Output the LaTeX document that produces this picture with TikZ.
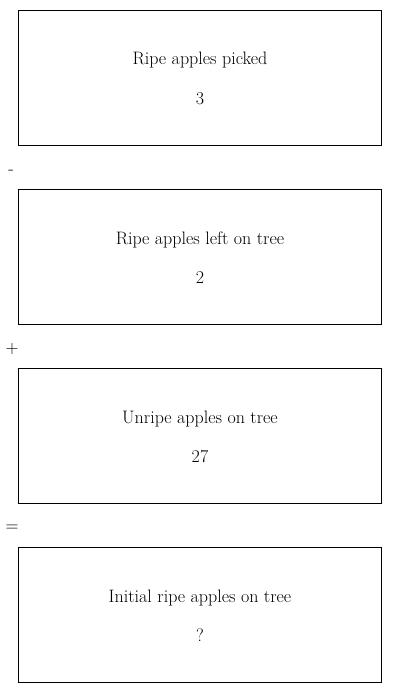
\documentclass[tikz,border=0pt]{standalone}
\begin{document}
\begin{tikzpicture}[x=1pt,y=-1pt,
  box/.style={draw,line width=0.8pt,minimum width=363pt,minimum height=135pt,inner sep=0pt},
  lbl/.style={font=\fontsize{18}{21}\selectfont,inner sep=0pt,anchor=base},
  op/.style={font=\fontsize{18}{21}\selectfont,inner sep=0pt}]
\useasboundingbox (0,0) rectangle (400,693);
\node[box] (b1) at (200,78) {};
\node[box] (b2) at (200,257) {};
\node[box] (b3) at (200,436) {};
\node[box] (b4) at (200,615) {};
\node[lbl] (t1) at (200,65) {Ripe apples picked};
\node[lbl] (n1) at (200,104) {3};
\node[lbl] (t2) at (200,244) {Ripe apples left on tree};
\node[lbl] (n2) at (200,283) {2};
\node[lbl] (t3) at (200,423) {Unripe apples on tree};
\node[lbl] (n3) at (200,462) {27};
\node[lbl] (t4) at (200,602) {Initial ripe apples on tree};
\node[lbl] (n4) at (200,641) {?};
\node[op] (o1) at (11,172) {-};
\node[op] (o2) at (12,349) {+};
\node[op] (o3) at (12,528) {=};
\end{tikzpicture}
\end{document}
